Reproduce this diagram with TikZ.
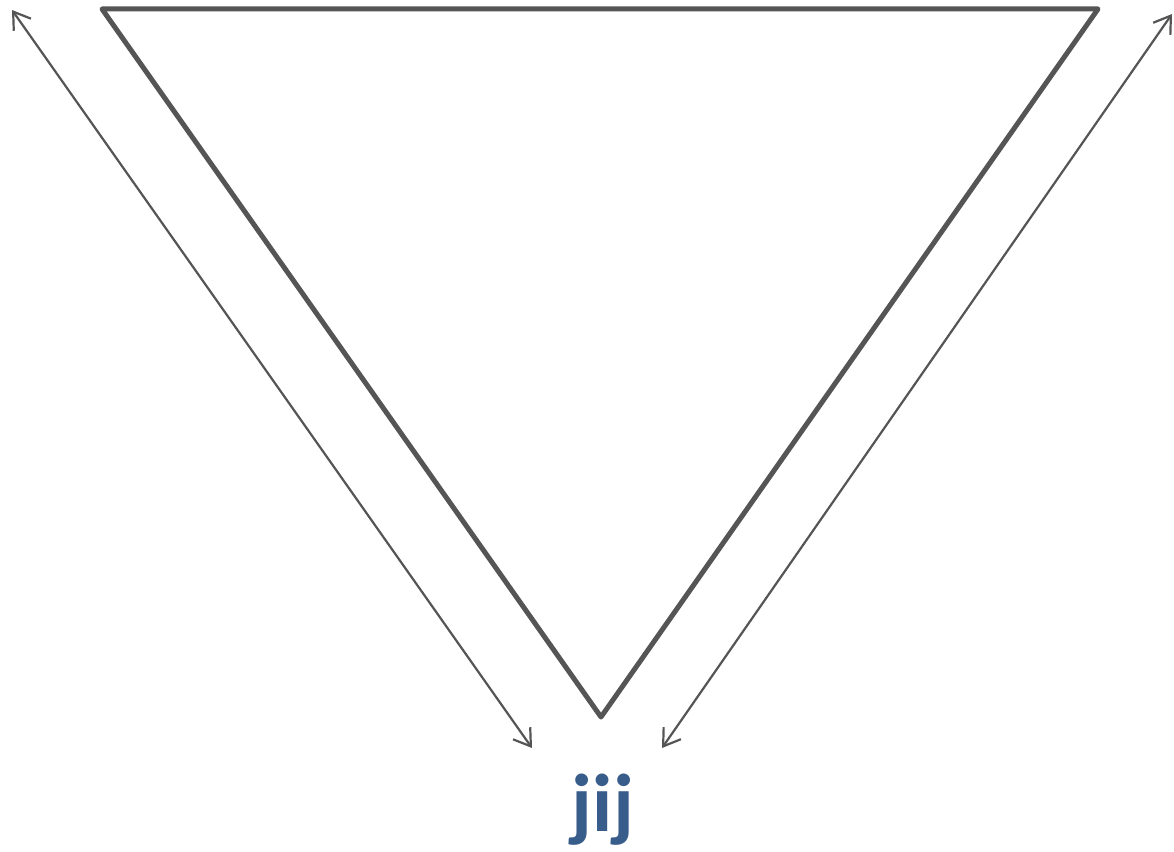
\documentclass[tikz,border=0pt]{standalone}
\usepackage{fontspec}
\newfontfamily\labelfont{Carlito}
\usetikzlibrary{arrows.meta}
\definecolor{edgegray}{HTML}{555555}
\definecolor{labelblue}{HTML}{385D8A}
\begin{document}
\begin{tikzpicture}[x=1pt,y=-1pt,
  tri/.style={draw=edgegray,line width=5pt,line join=round,line cap=round},
  dblarrow/.style={draw=edgegray,line width=2.2pt,{Straight Barb[length=16pt,width=21pt,line width=2.2pt]}-{Straight Barb[length=16pt,width=21pt,line width=2.2pt]}},
  lbl/.style={text=labelblue,font=\labelfont\bfseries\fontsize{82}{82}\selectfont,inner sep=0pt,anchor=base}]
\useasboundingbox (0,0) rectangle (1174,851);
\coordinate (tl) at (102,9);
\coordinate (tr) at (1098,9);
\coordinate (bt) at (601,717);
\coordinate (la) at (12,10);
\coordinate (lb) at (532,748);
\coordinate (ra) at (1172,14);
\coordinate (rb) at (662,748);
\draw[tri] (tl) -- (tr) -- (bt) -- cycle;
\draw[dblarrow] (la) -- (lb);
\draw[dblarrow] (ra) -- (rb);
\node[lbl] (jij) at (603,831) {jij};
\end{tikzpicture}
\end{document}
